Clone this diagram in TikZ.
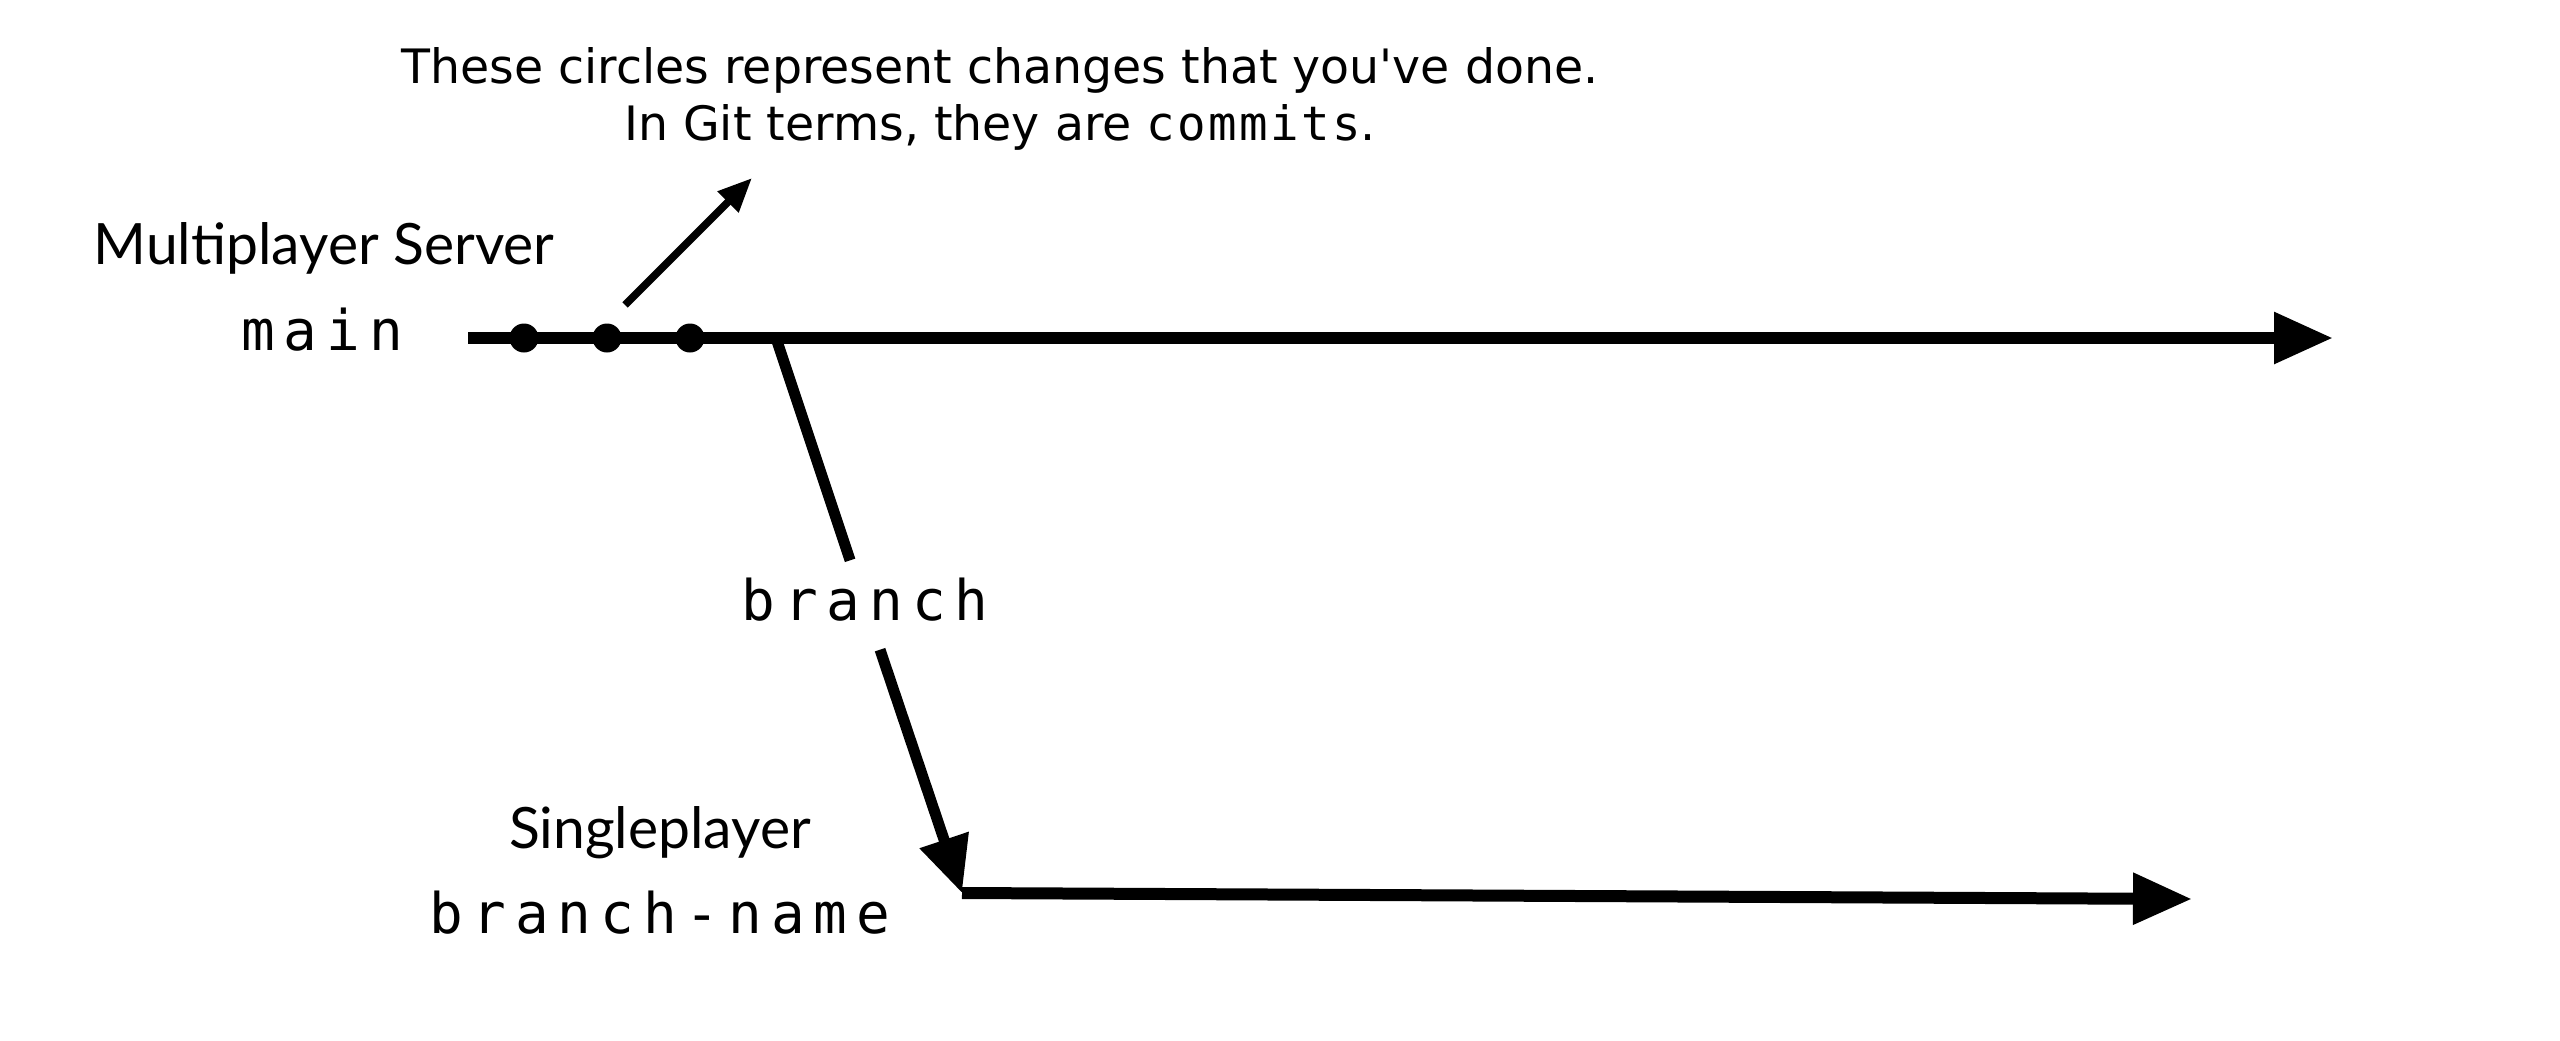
\documentclass[tikz,border=0pt]{standalone}
\usepackage{fontspec}
\setmainfont{DejaVu Sans}[Ligatures=TeXOff]
\newfontfamily\bigmono[LetterSpace=16]{DejaVu Sans Mono}
\newfontfamily\smallmono[LetterSpace=5]{DejaVu Sans Mono}
\newfontfamily\titlefont{Lato}
\usetikzlibrary{arrows.meta}
\tikzset{
  note/.style={align=center, inner sep=0pt, font=\fontsize{47.4}{57}\selectfont},
  title/.style={inner sep=0pt, anchor=base, font=\titlefont\fontsize{57}{68}\selectfont},
  branchname/.style={inner sep=0pt, anchor=base, font=\bigmono\fontsize{56}{66}\selectfont},
  commit/.style={circle, fill=black, inner sep=0pt, minimum size=29pt},
  trunk/.style={line width=12pt, -{Triangle[length=59pt,width=49pt]}},
  twig/.style={line width=11pt},
  pointer/.style={line width=7.6pt, -{Triangle[length=34pt,width=28pt]}}
}
\begin{document}
\begin{tikzpicture}[x=1pt,y=-1pt]
\useasboundingbox (0,0) rectangle (2560,1041);
% texts
\node[note, anchor=north] (note) at (1000,47)
  {These circles represent changes that you've done.\\In Git terms, they are {\smallmono commits}.};
\node[title] (mptitle) at (324,264) {Multiplayer Server};
\node[branchname] (mainlbl) at (322,350) {main};
\node[title] (sptitle) at (660,848) {Singleplayer};
\node[branchname] (bnlbl) at (660,933) {branch-name};
\node[inner sep=0pt, font=\bigmono\fontsize{56}{66}\selectfont,
      text height=30pt, text depth=0pt, minimum height=89pt] (brlbl) at (865,605) {branch};
% coordinates
\coordinate (mainS) at (468,338);
\coordinate (mainE) at (2333,338);
\coordinate (fork) at (776,338);
\coordinate (brtip) at (962,893);
\coordinate (botE) at (2192,899);
\coordinate (ptrS) at (625,305);
\coordinate (ptrE) at (752,178);
% main line
\draw[trunk] (mainS) -- (mainE);
% commits
\node[commit] (c1) at (524,338) {};
\node[commit] (c2) at (607,338) {};
\node[commit] (c3) at (690,338) {};
% pointer
\draw[pointer] (ptrS) -- (ptrE);
% branch
\draw[twig] (fork) -- (brlbl);
\draw[twig, -{Triangle[length=56pt,width=49pt]}] (brlbl) -- (brtip);
\draw[trunk] (brtip) -- (botE);
\end{tikzpicture}
\end{document}
